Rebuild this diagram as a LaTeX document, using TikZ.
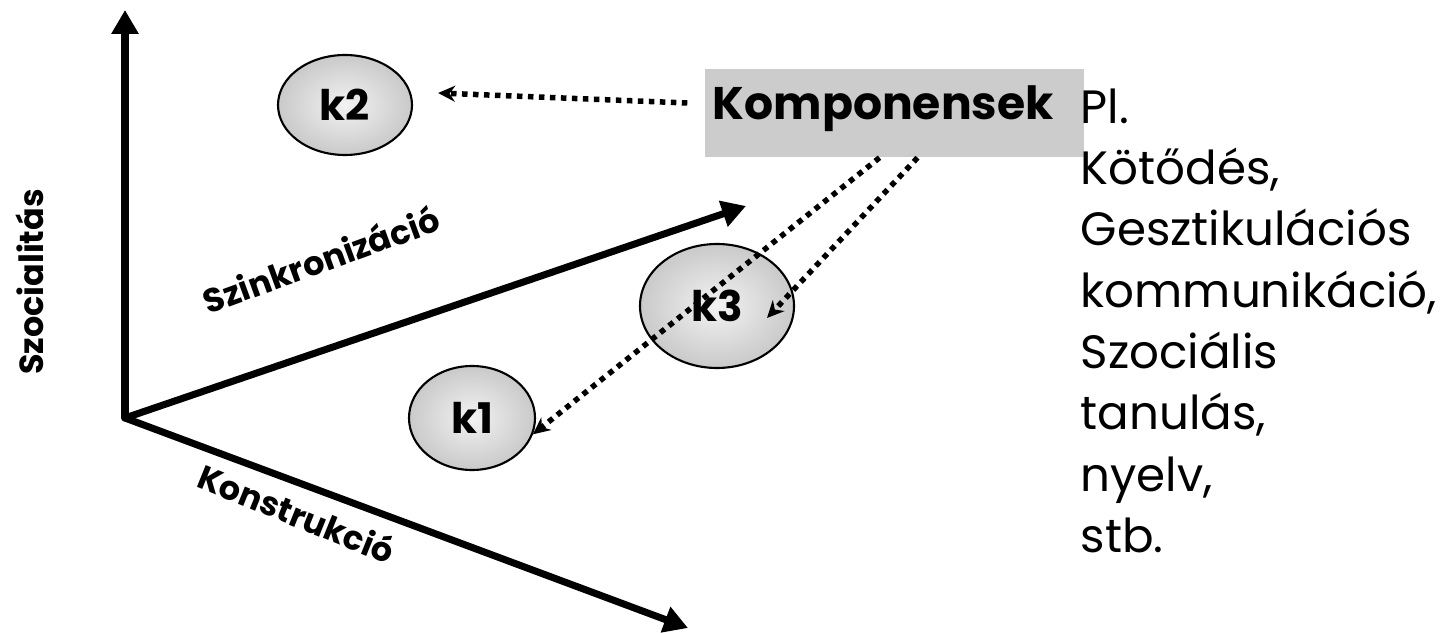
\documentclass[tikz,border=0pt]{standalone}
\usepackage{fontspec}
\setmainfont{Poppins}
\usepackage{tikz}
\usetikzlibrary{arrows.meta,shapes.geometric}

\definecolor{boxgray}{HTML}{CCCCCC}

\begin{document}
\begin{tikzpicture}[line cap=round,line join=round,x=1.0cm,y=1.0cm,
	axis/.style={line width=2pt,-{Triangle[length=0.24cm,width=0.26cm]}},
	axislabel/.style={font=\fontsize{9.5}{11}\selectfont\bfseries},
	comp/.style={ellipse,draw,line width=0.6pt,inner sep=0pt,shading=radial,inner color=gray!10,outer color=gray!42,font=\fontsize{12}{14}\selectfont\bfseries},
	dotarrow/.style={line width=0.055cm,line cap=butt,dash pattern=on 0.055cm off 0.055cm,-{Stealth[length=0.17cm,width=0.16cm]}}]
			\useasboundingbox (0,0) rectangle (14.52,6.32);
			% axes
			\coordinate (o) at (1.25,2.14);
			\coordinate (szoc) at (1.25,6.22);
			\coordinate (szink) at (7.46,4.26);
			\coordinate (konst) at (6.88,0.04);
			\draw [axis] (o) -- (szoc);
			\draw [axis] (o) -- (szink);
			\draw [axis] (o) -- (konst);
			\node [axislabel,rotate=90] (szoclab) at (0.30,3.50) {Szocialitás};
			\node [axislabel,rotate=20] (szinklab) at (3.21,3.73) {Szinkronizáció};
			\node [axislabel,rotate=-22] (konstlab) at (2.97,1.19) {Konstrukció};
			% components
			\node [comp,minimum width=1.34cm,minimum height=1.0cm] (k2) at (3.45,5.27) {k2};
			\node [comp,minimum width=1.26cm,minimum height=1.04cm] (k1) at (4.72,2.14) {k1};
			\node [comp,minimum width=1.54cm,minimum height=1.24cm] (k3) at (7.17,3.26) {k3};
			\node [fill=boxgray,inner sep=0pt,minimum width=3.79cm,minimum height=0.88cm] (komp) at (8.945,5.19) {};
			\node [anchor=base west,inner sep=0pt,font=\fontsize{13}{16}\selectfont\bfseries] (komptext) at (7.12,5.12) {Komponensek};
			% dotted arrows
			\draw [dotarrow] ([shift={(-0.17,0.10)}]komp.west) -- ([shift={(0.25,0.12)}]k2.east);
			\draw [dotarrow] ([xshift=-0.15cm]komp.south) -- (k1.-15);
			\draw [dotarrow] ([xshift=0.23cm]komp.south) -- ([shift={(0.50,-0.12)}]k3.center);
			% examples
			\node [anchor=north west,align=left,inner sep=0pt,font=\fontsize{13.3}{17.45}\selectfont] (pelda) at (10.80,5.44) {Pl.\\Kötődés,\\Gesztikulációs\\kommunikáció,\\Szociális\\tanulás,\\nyelv,\\stb.};
\end{tikzpicture}
\end{document}
